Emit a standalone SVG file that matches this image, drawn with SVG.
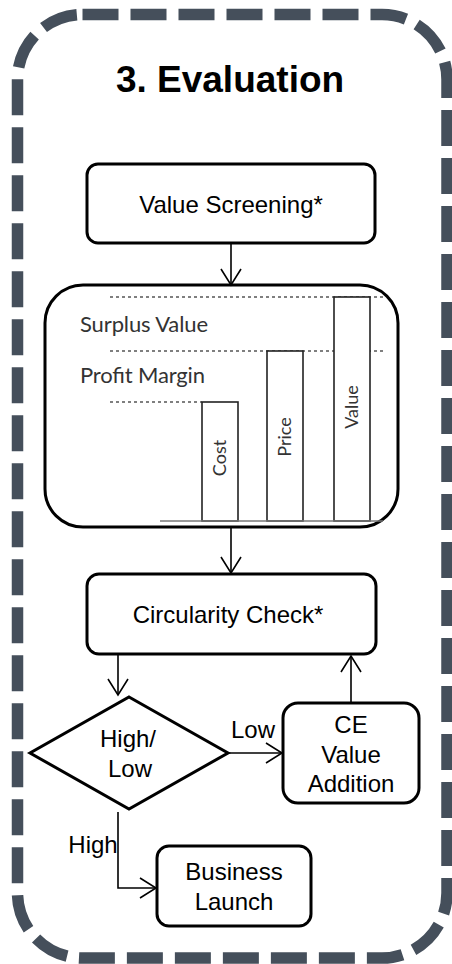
<svg xmlns="http://www.w3.org/2000/svg" width="452" height="964" viewBox="0 0 452 964">
<style>
.box{fill:#fff;stroke:#000;stroke-width:3}
.t{font-family:"Liberation Sans",Arial,sans-serif;font-size:24px;fill:#000;text-anchor:middle}
.c{font-family:Lato,"Open Sans",sans-serif;fill:#333}
.conn{fill:none;stroke:#000;stroke-width:1.6}
.bar{fill:#fff;stroke:#222;stroke-width:1.6}
.dot{stroke:#555;stroke-width:1.3;stroke-dasharray:3 3}
</style>
<defs>
<marker id="arr" markerUnits="userSpaceOnUse" markerWidth="24" markerHeight="24" refX="17" refY="11" orient="auto">
<path d="M1,1 L17,11 L1,21" fill="none" stroke="#000" stroke-width="1.6"/>
</marker>
</defs>
<rect id="frame" x="17.5" y="14.5" width="429.5" height="943.5" rx="65" fill="none" stroke="#454f5b" stroke-width="11.5" stroke-dasharray="36 12"/>
<text id="title" x="230" y="92" font-family="Liberation Sans,Arial,sans-serif" font-weight="bold" font-size="37" text-anchor="middle">3. Evaluation</text>
<g id="value-screening">
<rect class="box" x="87" y="164" width="288" height="79" rx="11"/>
<text class="t" x="231" y="213">Value Screening*</text>
</g>
<g id="chart">
<rect class="box" x="45" y="285" width="353" height="242" rx="38"/>
<line class="dot" x1="110" y1="297" x2="383" y2="297"/>
<line class="dot" x1="110" y1="351" x2="383" y2="351"/>
<line class="dot" x1="110" y1="402" x2="202" y2="402"/>
<rect class="bar" x="202" y="402" width="36" height="119"/>
<rect class="bar" x="267" y="351" width="36" height="170"/>
<rect class="bar" x="334" y="297" width="36" height="224"/>
<line x1="160" y1="521" x2="383" y2="521" stroke="#777" stroke-width="1.6"/>
<text class="c" x="80" y="332" font-size="22" textLength="128">Surplus Value</text>
<text class="c" x="80" y="383" font-size="22" textLength="125">Profit Margin</text>
<text class="c" font-size="18" text-anchor="middle" transform="translate(226,458) rotate(-90)">Cost</text>
<text class="c" font-size="18" text-anchor="middle" transform="translate(291,437) rotate(-90)">Price</text>
<text class="c" font-size="18" text-anchor="middle" transform="translate(358,407) rotate(-90)">Value</text>
</g>
<g id="circularity-check">
<rect class="box" x="87" y="574" width="289" height="80" rx="12"/>
<text class="t" x="228" y="623">Circularity Check*</text>
</g>
<g id="decision">
<polygon points="129,697 228,753 129,809 30,753" fill="#fff" stroke="#000" stroke-width="3"/>
<text class="t" x="128" y="747">High/</text>
<text class="t" x="130" y="777">Low</text>
</g>
<g id="ce-value-addition">
<rect class="box" x="283" y="703" width="136" height="100" rx="15"/>
<text class="t" x="351" y="733">CE</text>
<text class="t" x="351" y="763">Value</text>
<text class="t" x="351" y="792">Addition</text>
</g>
<g id="business-launch">
<rect class="box" x="157" y="846" width="154" height="80" rx="12"/>
<text class="t" x="234" y="880">Business</text>
<text class="t" x="234" y="910">Launch</text>
</g>
<g id="connectors">
<line class="conn" x1="231" y1="243" x2="231" y2="285" marker-end="url(#arr)"/>
<line class="conn" x1="231" y1="527" x2="231" y2="573" marker-end="url(#arr)"/>
<line class="conn" x1="118" y1="654" x2="118" y2="695" marker-end="url(#arr)"/>
<line class="conn" x1="228" y1="753" x2="282" y2="753" marker-end="url(#arr)"/>
<line class="conn" x1="351" y1="703" x2="351" y2="656" marker-end="url(#arr)"/>
<polyline class="conn" points="118,812 118,888 156,888" marker-end="url(#arr)"/>
<text class="t" x="253" y="738">Low</text>
<text class="t" x="93" y="853">High</text>
</g>
</svg>
